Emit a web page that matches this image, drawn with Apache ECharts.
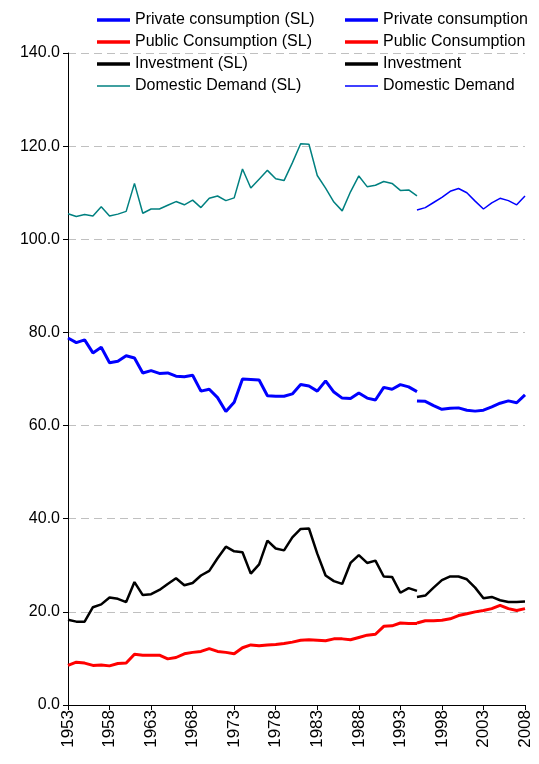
<!DOCTYPE html><html><head><meta charset="utf-8"><script src="https://cdn.jsdelivr.net/npm/echarts@6/dist/echarts.min.js"></script>
<style>html,body{margin:0;padding:0;background:#fff}#c{width:539px;height:764px}</style></head><body><div id="c"></div><script>
const years=[];for(let y=1953;y<=2008;y++)years.push(String(y));
const privSL=[78.8,77.8,78.4,75.6,76.8,73.5,73.8,75.0,74.5,71.3,71.8,71.2,71.3,70.6,70.5,70.8,67.4,67.8,66.0,63.0,65.0,70.0,69.9,69.8,66.4,66.3,66.3,66.8,68.8,68.5,67.4,69.6,67.2,65.9,65.8,67.0,65.9,65.5,68.2,67.8,68.8,68.3,67.3];
const privNew=[65.3,65.2,64.3,63.5,63.7,63.8,63.3,63.1,63.3,64.0,64.8,65.3,64.9,66.6];
const pubSL=[8.5,9.2,9.0,8.5,8.6,8.4,8.9,9.0,10.9,10.7,10.7,10.7,9.9,10.2,11.0,11.3,11.5,12.1,11.5,11.3,11.0,12.3,12.9,12.7,12.9,13.0,13.2,13.5,13.9,14.0,13.9,13.8,14.2,14.2,14.0,14.5,15.0,15.2,16.9,17.0,17.6,17.5,17.5];
const pubNew=[17.6,18.1,18.1,18.2,18.5,19.2,19.6,20.0,20.3,20.7,21.4,20.7,20.3,20.7];
const invSL=[18.3,17.9,17.9,21.0,21.6,23.1,22.8,22.1,26.4,23.6,23.8,24.7,26.0,27.2,25.7,26.2,27.8,28.8,31.5,34.0,33.0,32.8,28.2,30.2,35.3,33.6,33.2,36.0,37.8,37.9,32.5,27.8,26.6,26.0,30.5,32.2,30.5,31.0,27.6,27.5,24.1,25.1,24.5];
const invNew=[23.2,23.5,25.2,26.8,27.6,27.6,27.0,25.2,22.9,23.2,22.5,22.1,22.1,22.2];
const domSL=[105.5,104.9,105.3,105.0,107.0,105.0,105.4,106.0,112.0,105.6,106.5,106.5,107.3,108.1,107.4,108.4,106.8,108.8,109.3,108.3,108.9,115.1,111.0,112.9,114.8,113.0,112.6,116.4,120.5,120.4,113.7,111.0,108.0,106.1,110.2,113.6,111.3,111.6,112.4,112.0,110.5,110.6,109.3];
const domNew=[106.3,106.8,107.9,109.0,110.3,110.9,110.0,108.2,106.5,107.8,108.8,108.3,107.4,109.3];
const oldS=d=>d.concat(new Array(years.length-d.length).fill(null));
const newS=d=>new Array(years.length-d.length).fill(null).concat(d);
function s(name,data,color,w){return {name,type:'line',data,symbol:'none',connectNulls:false,lineStyle:{color,width:w},itemStyle:{color},emphasis:{disabled:true}};}
const series=[
s('Private consumption (SL)',oldS(privSL),'#0000ff',3),
s('Private consumption',newS(privNew),'#0000ff',3),
s('Public Consumption (SL)',oldS(pubSL),'#ff0000',3),
s('Public Consumption',newS(pubNew),'#ff0000',3),
s('Investment (SL)',oldS(invSL),'#000000',2.5),
s('Investment',newS(invNew),'#000000',2.5),
s('Domestic Demand (SL)',oldS(domSL),'#008080',1.5),
s('Domestic Demand',newS(domNew),'#0000ff',1.5)];
const thick='path://M0,3L36,3L36,7L0,7Z', thin='path://M0,4.2L36,4.2L36,5.8L0,5.8Z';
const lg=(x,names)=>({left:x,top:7,orient:'vertical',itemGap:6,itemWidth:33,itemHeight:11,data:names.map(n=>({name:n,icon:n.startsWith('Domestic')?thin:thick})),textStyle:{fontFamily:'Liberation Sans',fontSize:16,color:'#000'},selectedMode:false});
const chart=echarts.init(document.getElementById('c'));
chart.setOption({animation:false,
legend:[lg(92,['Private consumption (SL)','Public Consumption (SL)','Investment (SL)','Domestic Demand (SL)']),lg(340,['Private consumption','Public Consumption','Investment','Domestic Demand'])],
grid:{left:68,right:14,top:53,bottom:59},
xAxis:{type:'category',data:years,boundaryGap:false,axisLine:{lineStyle:{color:'#000'}},axisTick:{interval:4,lineStyle:{color:'#000'}},axisLabel:{interval:4,rotate:90,margin:5,fontFamily:'Liberation Sans',fontSize:17,color:'#000'}},
yAxis:{type:'value',min:0,max:140,interval:20,axisLine:{show:true,lineStyle:{color:'#000'}},axisTick:{show:true,lineStyle:{color:'#000'}},axisLabel:{formatter:v=>v.toFixed(1),fontFamily:'Liberation Sans',fontSize:16,color:'#000'},splitLine:{lineStyle:{color:'#c0c0c0',type:[8,5]}}},
series});
</script></body></html>
